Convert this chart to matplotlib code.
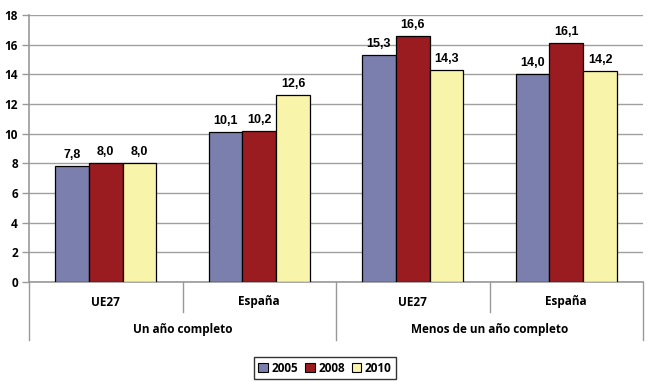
import matplotlib
matplotlib.use("Agg")
import matplotlib.pyplot as plt
from matplotlib.patches import Patch
import numpy as np

subcats = ["UE27", "España", "UE27", "España"]
groups = ["Un año completo", "Menos de un año completo"]
years = ["2005", "2008", "2010"]
v2005 = [7.8, 10.1, 15.3, 14.0]
v2008 = [8.0, 10.2, 16.6, 16.1]
v2010 = [8.0, 12.6, 14.3, 14.2]
labels2005 = ["7,8", "10,1", "15,3", "14,0"]
labels2008 = ["8,0", "10,2", "16,6", "16,1"]
labels2010 = ["8,0", "12,6", "14,3", "14,2"]
colors = ["#7b7fae", "#9a1c21", "#f8f4aa"]

plt.rcParams['font.family'] = ['Open Sans', 'DejaVu Sans']
fig = plt.figure(figsize=(6.5, 3.82), dpi=100)
ax = fig.add_axes([29/650, 1-282/382, (643-29)/650, (282-15)/382])

x = np.arange(len(subcats))
w = 0.22
series = [v2005, v2008, v2010]
lbls = [labels2005, labels2008, labels2010]
for i, (vals, lab, c) in enumerate(zip(series, lbls, colors)):
    bars = ax.bar(x + (i-1)*w, vals, w, color=c, edgecolor="black", linewidth=0.9, zorder=3)
    for b, t in zip(bars, lab):
        ax.text(b.get_x()+b.get_width()/2, b.get_height()+0.35, t, ha="center", va="bottom",
                fontsize=9, fontweight="bold", family=['Liberation Sans', 'DejaVu Sans'])

ax.set_xlim(-0.5, 3.5)
ax.set_ylim(0, 18)
ax.set_yticks(range(0, 19, 2))
ax.tick_params(axis='y', labelsize=8.5, length=5, color="#999999", width=1, pad=3)
for t in ax.get_yticklabels():
    t.set_fontweight("bold")
ax.set_xticks([])
ax.grid(axis='y', color="#a0a0a0", linewidth=1, zorder=0)
for s in ["top", "right"]:
    ax.spines[s].set_visible(False)
ax.spines["left"].set_color("#999999")
ax.spines["bottom"].set_color("#999999")
ax.spines["left"].set_linewidth(1.2)
ax.spines["bottom"].set_linewidth(1.2)

trans = ax.get_xaxis_transform()
h = 267.0
for xi in [0.5, 2.5]:
    ax.plot([xi, xi], [0, -30/h], transform=trans, color="#999999", lw=1, clip_on=False)
for xi in [-0.5, 1.5, 3.5]:
    ax.plot([xi, xi], [0, -58/h], transform=trans, color="#999999", lw=1, clip_on=False)
for xi, s in zip(x, subcats):
    ax.text(xi, -20/h, s, transform=trans, ha="center", va="center", fontsize=8.5, fontweight="bold")
for gi, g in enumerate(groups):
    ax.text(gi*2+0.5, -48/h, g, transform=trans, ha="center", va="center", fontsize=8.5, fontweight="bold")

handles = [Patch(facecolor=c, edgecolor="black", linewidth=0.8, label=y) for c, y in zip(colors, years)]
leg = fig.legend(handles=handles, loc="center", bbox_to_anchor=(325/650, 1-368/382), ncol=3,
                 frameon=True, fancybox=False, edgecolor="black", fontsize=8.5,
                 handlelength=0.8, handleheight=0.8, handletextpad=0.3, columnspacing=0.6,
                 borderpad=0.35, prop={'weight': 'bold', 'size': 8.5})
leg.get_frame().set_linewidth(1.0)

fig.savefig("out.png", dpi=100)
